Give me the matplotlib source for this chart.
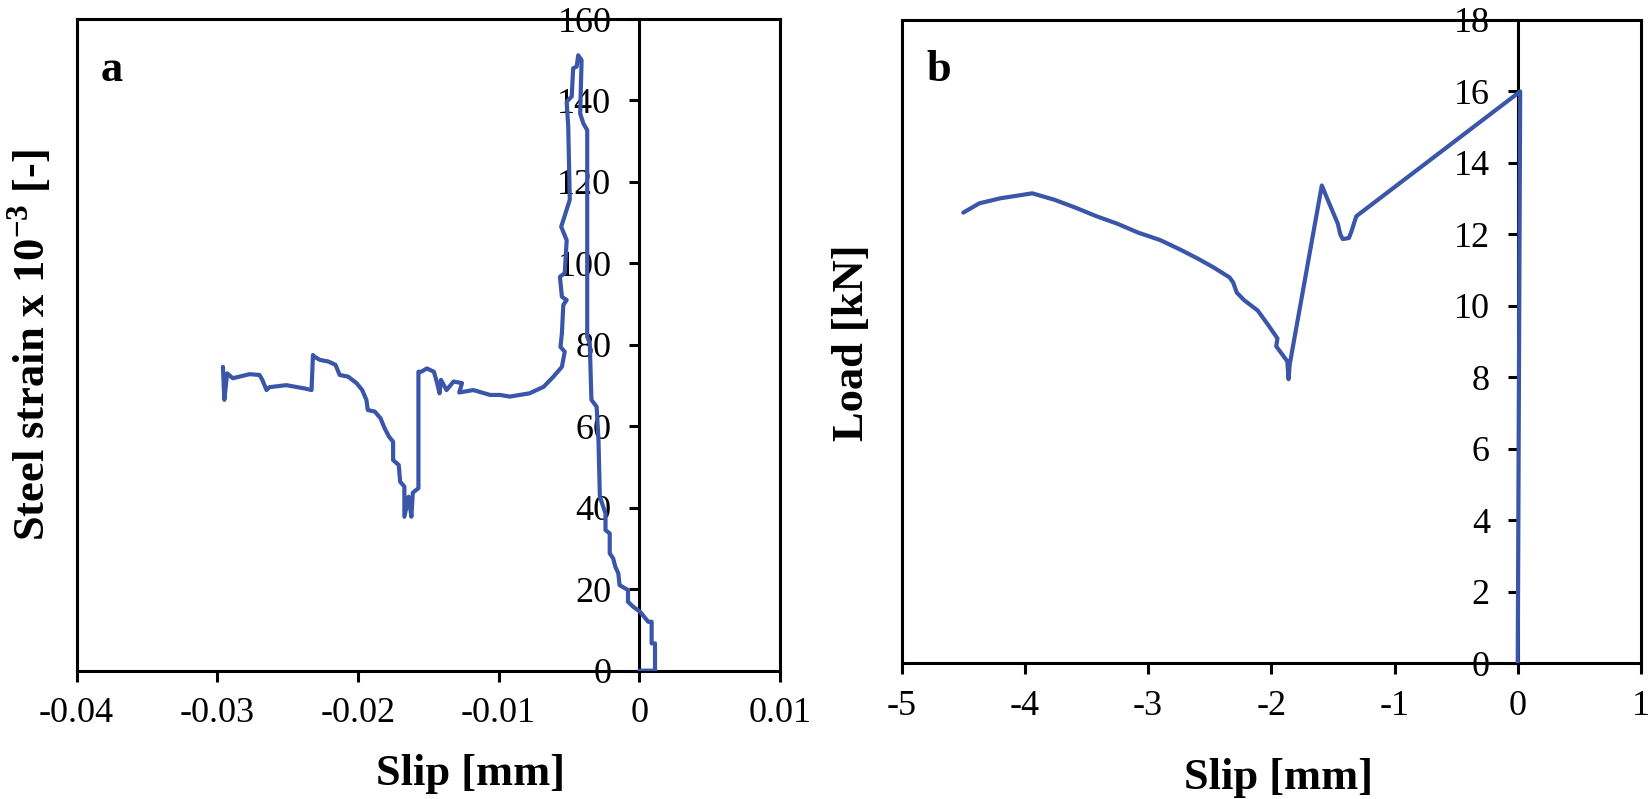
import matplotlib
matplotlib.use("Agg")
import matplotlib.pyplot as plt
from matplotlib.ticker import FixedLocator, FixedFormatter

plt.rcParams['font.family'] = ['Liberation Serif', 'DejaVu Serif']
plt.rcParams['mathtext.fontset'] = 'custom'
plt.rcParams['mathtext.rm'] = 'Liberation Serif'
plt.rcParams['mathtext.bf'] = 'Liberation Serif:bold'
plt.rcParams['axes.unicode_minus'] = False

# panel a: slip [mm] vs steel strain x 10^-3
slip_a = [0, 0.00112, 0.00112, 0.00088, 0.00088, 0.00064, 0.00005, -0.00043, -0.0008, -0.0008,
          -0.0014, -0.00149, -0.0017, -0.00186, -0.0021, -0.0021, -0.0024, -0.0024, -0.0028, -0.0029,
          -0.00303, -0.0034, -0.00352, -0.0037, -0.0037, -0.00398, -0.0042, -0.0041, -0.00434, -0.00445,
          -0.0047, -0.0048, -0.00516, -0.00505, -0.00494, -0.00555, -0.00516, -0.0053, -0.00564, -0.0055,
          -0.00516, -0.0054, -0.0055, -0.0056, -0.0053, -0.0055, -0.0061, -0.0068, -0.0078, -0.0092,
          -0.00991, -0.0106, -0.0118, -0.0128, -0.0126, -0.0132, -0.0137, -0.0141, -0.0142, -0.0144,
          -0.0146, -0.0151, -0.0155, -0.0157, -0.0157, -0.0161, -0.0162, -0.0164, -0.0167, -0.0167,
          -0.0170, -0.0171, -0.0175, -0.0175, -0.0178, -0.0181, -0.0184, -0.0188, -0.0193, -0.0194,
          -0.0197, -0.0201, -0.0207, -0.0213, -0.0216, -0.0221, -0.0227, -0.0231, -0.0232, -0.0233,
          -0.0238, -0.0251, -0.0263, -0.0265, -0.0268, -0.0270, -0.0277, -0.0289, -0.0293, -0.0295,
          -0.0296]
strain_a = [0, 0, 6.7, 6.7, 12.0, 12.0, 14.5, 15.7, 16.9, 19.8,
            21.0, 23.9, 25.5, 27.6, 28.8, 33.7, 34.5, 38.6, 42.7, 56.6,
            64.8, 66.5, 80.4, 82.0, 132.7, 134.4, 136.8, 149.9, 151.1, 148.3,
            147.9, 141.0, 139.7, 133.6, 115.6, 109.0, 105.7, 97.6, 96.7, 91.8,
            91.0, 89.8, 82.8, 79.5, 78.3, 74.6, 72.2, 69.7, 68.1, 67.3,
            67.7, 67.7, 68.9, 68.3, 70.6, 71.0, 68.9, 71.4, 68.1, 71.0,
            73.4, 74.2, 73.4, 73.4, 44.8, 43.7, 37.8, 42.7, 37.8, 45.2,
            46.4, 50.5, 51.7, 56.2, 57.5, 59.5, 62.0, 63.6, 64.0, 66.5,
            68.9, 70.6, 72.2, 72.6, 75.1, 75.9, 76.3, 77.1, 77.5, 68.9,
            69.3, 70.1, 69.6, 68.9, 71.4, 72.6, 72.8, 71.8, 73.0, 66.5,
            74.6]

# panel b: slip [mm] vs load [kN]
slip_b = [0, 0.02, -1.31, -1.35, -1.37, -1.42, -1.44, -1.46, -1.53, -1.59,
          -1.85, -1.86, -1.87, -1.93, -1.96, -1.95, -2.02, -2.11, -2.22, -2.28,
          -2.31, -2.34, -2.47, -2.60, -2.73, -2.90, -3.08, -3.25, -3.42, -3.59,
          -3.76, -3.94, -4.07, -4.20, -4.37, -4.50]
load_b = [0, 16.0, 12.51, 12.08, 11.9, 11.87, 12.0, 12.3, 12.87, 13.37,
          8.37, 7.95, 8.45, 8.73, 8.87, 9.09, 9.44, 9.87, 10.16, 10.37,
          10.66, 10.8, 11.08, 11.33, 11.56, 11.84, 12.05, 12.3, 12.51, 12.75,
          12.97, 13.15, 13.08, 13.01, 12.87, 12.61]

xticks_a = [-0.04, -0.03, -0.02, -0.01, 0, 0.01]
xlabels_a = ['-0.04', '-0.03', '-0.02', '-0.01', '0', '0.01']
yticks_a = [0, 20, 40, 60, 80, 100, 120, 140, 160]
xticks_b = [-5, -4, -3, -2, -1, 0, 1]
xlabels_b = ['-5', '-4', '-3', '-2', '-1', '0', '1']
yticks_b = [0, 2, 4, 6, 8, 10, 12, 14, 16, 18]

blue = '#3A56A8'
lw_axis = 2.2

fig = plt.figure(figsize=(16.52, 7.99), dpi=100)
ax1 = fig.add_axes([0.0464, 0.1606, 0.4257, 0.8156])
ax2 = fig.add_axes([0.5458, 0.1698, 0.4475, 0.8052])


def style(ax, xlim, ylim, xt, xl, yt):
    ax.set_xlim(xlim)
    ax.set_ylim(ylim)
    for s in ax.spines.values():
        s.set_linewidth(lw_axis)
    ax.spines['left'].set_position(('data', 0))
    ax.axvline(xlim[0], color='black', lw=lw_axis, clip_on=False)
    ax.xaxis.set_major_locator(FixedLocator(xt))
    ax.xaxis.set_major_formatter(FixedFormatter(xl))
    ax.yaxis.set_major_locator(FixedLocator(yt))
    ax.yaxis.set_major_formatter(FixedFormatter([str(v) for v in yt]))
    ax.tick_params(axis='x', direction='out', length=8, width=lw_axis, labelsize=26, pad=11)
    ax.tick_params(axis='y', direction='out', length=7, width=lw_axis, labelsize=26, pad=13)
    for lab in ax.get_yticklabels():
        lab.set_zorder(5)


ax1.plot(slip_a, strain_a, color=blue, lw=3, zorder=3, solid_capstyle='round')
style(ax1, (-0.04, 0.01), (0, 160), xticks_a, xlabels_a, yticks_a)
ax2.plot(slip_b, load_b, color=blue, lw=3, zorder=3, solid_capstyle='round')
style(ax2, (-5, 1), (0, 18), xticks_b, xlabels_b, yticks_b)

fig.text(101 / 1652, 1 - 81 / 799, 'a', fontsize=32, fontweight='bold', ha='left', va='baseline')
fig.text(926 / 1652, 1 - 81 / 799, 'b', fontsize=32, fontweight='bold', ha='left', va='baseline')

fig.text(471 / 1652, 1 - 774 / 799, 'Slip [mm]', fontsize=32, fontweight='bold', ha='center', va='center')
fig.text(1278 / 1652, 1 - 778 / 799, 'Slip [mm]', fontsize=32, fontweight='bold', ha='center', va='center')
fig.text(30 / 1652, 1 - 345 / 799, r'Steel strain x 10$^{\mathbf{-3}}$ [-]', fontsize=32,
         fontweight='bold', ha='center', va='center', rotation=90)
fig.text(852 / 1652, 1 - 343 / 799, 'Load [kN]', fontsize=32, fontweight='bold',
         ha='center', va='center', rotation=90)

fig.savefig('out.png', dpi=100)
